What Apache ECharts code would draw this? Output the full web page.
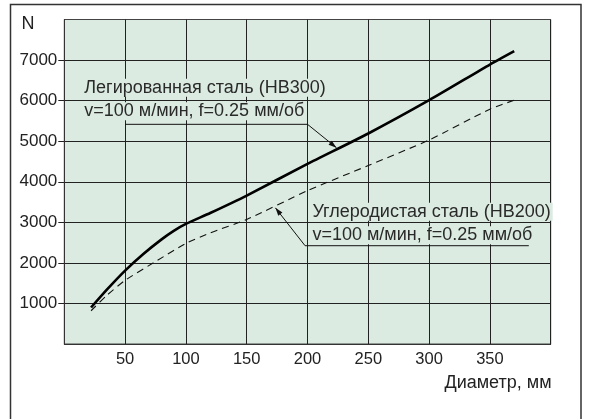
<!DOCTYPE html>
<html><head><meta charset="utf-8">
<script src="https://cdn.jsdelivr.net/npm/echarts@6/dist/echarts.min.js"></script>
<style>html,body{margin:0;padding:0;background:#fff}#c{width:592px;height:419px}</style>
</head><body><div id="c"></div>
<script>
// Data
const alloyDiam  = [22, 35, 50, 65, 80, 90, 100, 120, 150, 200, 250, 300, 350, 370];
const alloyForce = [900, 1340, 1810, 2220, 2580, 2790, 2960, 3230, 3660, 4440, 5190, 6010, 6890, 7220];
const carbonDiam  = [22, 35, 50, 76, 100, 120, 150, 200, 250, 300, 350, 370];
const carbonForce = [820, 1200, 1570, 2050, 2480, 2740, 3070, 3780, 4400, 5030, 5790, 6010];
const xTicks = [50, 100, 150, 200, 250, 300, 350];
const yTicks = [1000, 2000, 3000, 4000, 5000, 6000, 7000];
const yName = 'N';
const xName = 'Диаметр, мм';
const label1 = ['Легированная сталь (HB300)', 'v=100 м/мин, f=0.25 мм/об'];
const label2 = ['Углеродистая сталь (HB200)', 'v=100 м/мин, f=0.25 мм/об'];
const label1Pos = [14.8, 6030];
const label2Pos = [202.4, 2970];
const leader1 = [[50, 5416], [200, 5416], [223.8, 4840]];
const leader2 = [[382, 2423], [198, 2423], [173.6, 3356]];

const FONT = '"Liberation Sans", Arial, sans-serif';
const BG = '#dbebe1';
const chart = echarts.init(document.getElementById('c'), null, {renderer: 'canvas'});

const option = {
  animation: false,
  backgroundColor: '#fff',
  grid: {left: 64.3, right: 41.3, top: 19.5, bottom: 75, show: true,
         backgroundColor: BG, borderColor: '#444', borderWidth: 1},
  xAxis: {
    type: 'value', min: 0, max: 400, interval: 50,
    axisLine: {show: true, lineStyle: {color: '#333', width: 1}},
    axisTick: {show: false},
    axisLabel: {customValues: xTicks, formatter: v => String(v), color: '#222', fontSize: 16.5, fontFamily: FONT, margin: 7},
    splitLine: {show: true, lineStyle: {color: '#222', width: 1}}
  },
  yAxis: {
    type: 'value', min: 0, max: 8000, interval: 1000,
    axisLine: {show: true, lineStyle: {color: '#333', width: 1}},
    axisTick: {show: true, length: 6, customValues: yTicks, lineStyle: {color: '#222'}},
    axisLabel: {customValues: yTicks, formatter: v => String(v), color: '#222', fontSize: 17, fontFamily: FONT, margin: 7},
    splitLine: {show: true, lineStyle: {color: '#222', width: 1}}
  },
  series: [
    {type: 'line', data: alloyDiam.map((d, i) => [d, alloyForce[i]]), smooth: 0.2,
     showSymbol: false, lineStyle: {color: '#000', width: 2.6}, z: 5},
    {type: 'line', data: carbonDiam.map((d, i) => [d, carbonForce[i]]), smooth: 0.2,
     showSymbol: false, lineStyle: {color: '#111', width: 1.1, type: [7, 5]}, z: 5}
  ]
};
chart.setOption(option);

const px = (p) => chart.convertToPixel({gridIndex: 0}, p);

function labelEl(lines, pos) {
  const c = px(pos);
  return {
    type: 'text', x: c[0], y: c[1], z: 10,
    style: {
      text: lines.map(l => '{a|' + l + '}').join('\n'),
      verticalAlign: 'middle', align: 'left',
      rich: {a: {fontSize: 18, fontFamily: FONT, fill: '#2a2a2a', lineHeight: 23.5,
                 backgroundColor: BG, padding: [0, 2]}}
    }
  };
}
function leaderEls(pts) {
  const p = pts.map(px);
  const els = [{type: 'polyline', z: 11, shape: {points: p},
                style: {stroke: '#111', lineWidth: 1, fill: null}}];
  const a = p[p.length - 2], b = p[p.length - 1];
  const dx = b[0] - a[0], dy = b[1] - a[1], L = Math.hypot(dx, dy);
  const ux = dx / L, uy = dy / L, len = 8, w = 2.6;
  const bx = b[0] - ux * len, by = b[1] - uy * len;
  els.push({type: 'polygon', z: 11, shape: {points: [b, [bx - uy * w, by + ux * w], [bx + uy * w, by - ux * w]]},
            style: {fill: '#111'}});
  return els;
}

chart.setOption({
  graphic: [
    {type: 'rect', z: -1, shape: {x: 10.5, y: 4.5, width: 570.5, height: 440},
     style: {stroke: '#333', lineWidth: 1.5, fill: null}},
    {type: 'text', x: 28, y: 24, style: {text: yName, fontSize: 18, fontFamily: FONT, fill: '#222',
     align: 'center', verticalAlign: 'middle'}},
    {type: 'text', x: 551.5, y: 383.5, style: {text: xName, fontSize: 18, fontFamily: FONT, fill: '#222',
     align: 'right', verticalAlign: 'middle'}},
    labelEl(label1, label1Pos),
    labelEl(label2, label2Pos),
    ...leaderEls(leader1),
    ...leaderEls(leader2)
  ]
});
</script></body></html>
